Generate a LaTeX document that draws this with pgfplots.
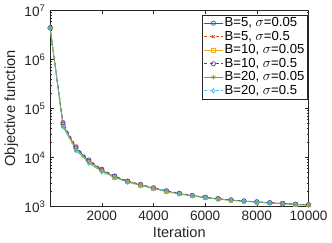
\documentclass[border=0pt]{standalone}
\usepackage{fontspec}
\setmainfont{Liberation Sans}
\usepackage{pgfplots}
\pgfplotsset{compat=1.18}
\definecolor{c1}{rgb}{0,0.447,0.741}
\definecolor{c2}{rgb}{0.85,0.325,0.098}
\definecolor{c3}{rgb}{0.929,0.694,0.125}
\definecolor{c4}{rgb}{0.494,0.184,0.556}
\definecolor{c5}{rgb}{0.466,0.674,0.188}
\definecolor{c6}{rgb}{0.301,0.745,0.933}
\definecolor{axc}{rgb}{0.15,0.15,0.15}
\begin{document}
\fontsize{14}{16}\selectfont
\begin{tikzpicture}
\begin{axis}[
  width=265bp, height=201bp, scale only axis,
  ymode=log, xmin=0, xmax=10000, ymin=1e3, ymax=1e7,
  scaled x ticks=false,
  xtick={2000,4000,6000,8000,10000},
  xticklabels={2000,4000,6000,8000,10000},
  ytick={1e3,1e4,1e5,1e6,1e7},
  yticklabels={10\textsuperscript{3},10\textsuperscript{4},10\textsuperscript{5},10\textsuperscript{6},10\textsuperscript{7}},
  /pgf/number format/assume math mode=true,
  tick align=inside,
  major tick length=3.5bp, minor tick length=2bp,
  axis line style={axc, line width=0.5pt},
  every tick/.style={axc, line width=0.5pt},
  tick label style={font=\fontsize{14}{16}\selectfont, text=axc},
  label style={font=\fontsize{15}{17}\selectfont, text=axc},
  xlabel={Iteration}, ylabel={Objective function},
  xlabel style={yshift=3bp},
  ylabel style={yshift=-3bp},
  legend cell align=left,
  legend style={at={(0.995,0.978)}, anchor=north east,
    font=\fontsize{13.5}{14}\selectfont, draw=axc, line width=0.5pt,
    inner sep=1.2pt, row sep=-0.6pt,
    nodes={inner sep=1.5pt}},
  legend image code/.code={
    \draw[mark repeat=2,mark phase=2] plot coordinates {(0cm,0cm) (0.34cm,0cm) (0.68cm,0cm)};},
  every axis plot/.append style={line width=0.75pt, mark size=2.2pt},
]
\addplot[c1, solid, mark=o] coordinates {
(0,4.40e6) (500,4.70e4) (1000,1.55e4) (1500,8.4e3) (2000,5.5e3) (2500,4.05e3) (3000,3.22e3) (3500,2.76e3) (4000,2.36e3) (4500,2.06e3) (5000,1.83e3) (5500,1.66e3) (6000,1.53e3) (6500,1.43e3) (7000,1.35e3) (7500,1.285e3) (8000,1.235e3) (8500,1.185e3) (9000,1.145e3) (9500,1.105e3) (10000,1.075e3)};
\addlegendentry{B=5, $\sigma$=0.05}
\addplot[c2, dashed, mark=x, mark options={solid}] coordinates {
(0,4.42e6) (500,5.0e4) (1000,1.63e4) (1500,8.8e3) (2000,5.7e3) (2500,4.15e3) (3000,3.28e3) (3500,2.80e3) (4000,2.39e3) (4500,2.08e3) (5000,1.85e3) (5500,1.67e3) (6000,1.54e3) (6500,1.44e3) (7000,1.36e3) (7500,1.29e3) (8000,1.24e3) (8500,1.19e3) (9000,1.15e3) (9500,1.11e3) (10000,1.08e3)};
\addlegendentry{B=5, $\sigma$=0.5}
\addplot[c3, solid, mark=square, mark size=1.9pt] coordinates {
(0,4.40e6) (500,4.5e4) (1000,1.48e4) (1500,8.1e3) (2000,5.35e3) (2500,3.98e3) (3000,3.18e3) (3500,2.73e3) (4000,2.34e3) (4500,2.04e3) (5000,1.82e3) (5500,1.65e3) (6000,1.52e3) (6500,1.42e3) (7000,1.34e3) (7500,1.28e3) (8000,1.23e3) (8500,1.18e3) (9000,1.14e3) (9500,1.10e3) (10000,1.07e3)};
\addlegendentry{B=10, $\sigma$=0.05}
\addplot[c4, dashed, mark=o, mark options={solid}] coordinates {
(0,4.43e6) (500,5.1e4) (1000,1.65e4) (1500,8.9e3) (2000,5.75e3) (2500,4.18e3) (3000,3.30e3) (3500,2.81e3) (4000,2.40e3) (4500,2.09e3) (5000,1.86e3) (5500,1.68e3) (6000,1.545e3) (6500,1.445e3) (7000,1.365e3) (7500,1.295e3) (8000,1.245e3) (8500,1.195e3) (9000,1.155e3) (9500,1.115e3) (10000,1.085e3)};
\addlegendentry{B=10, $\sigma$=0.5}
\addplot[c5, solid, mark=asterisk] coordinates {
(0,4.39e6) (500,4.3e4) (1000,1.42e4) (1500,7.8e3) (2000,5.2e3) (2500,3.92e3) (3000,3.14e3) (3500,2.70e3) (4000,2.32e3) (4500,2.02e3) (5000,1.80e3) (5500,1.64e3) (6000,1.51e3) (6500,1.41e3) (7000,1.335e3) (7500,1.275e3) (8000,1.225e3) (8500,1.175e3) (9000,1.135e3) (9500,1.095e3) (10000,1.065e3)};
\addlegendentry{B=20, $\sigma$=0.05}
\addplot[c6, dashed, mark=diamond, mark options={solid}] coordinates {
(0,4.38e6) (500,4.2e4) (1000,1.38e4) (1500,7.6e3) (2000,5.05e3) (2500,3.85e3) (3000,3.10e3) (3500,2.67e3) (4000,2.30e3) (4500,2.00e3) (5000,1.79e3) (5500,1.63e3) (6000,1.50e3) (6500,1.40e3) (7000,1.33e3) (7500,1.27e3) (8000,1.22e3) (8500,1.17e3) (9000,1.13e3) (9500,1.09e3) (10000,1.06e3)};
\addlegendentry{B=20, $\sigma$=0.5}
\end{axis}
\end{tikzpicture}
\end{document}
